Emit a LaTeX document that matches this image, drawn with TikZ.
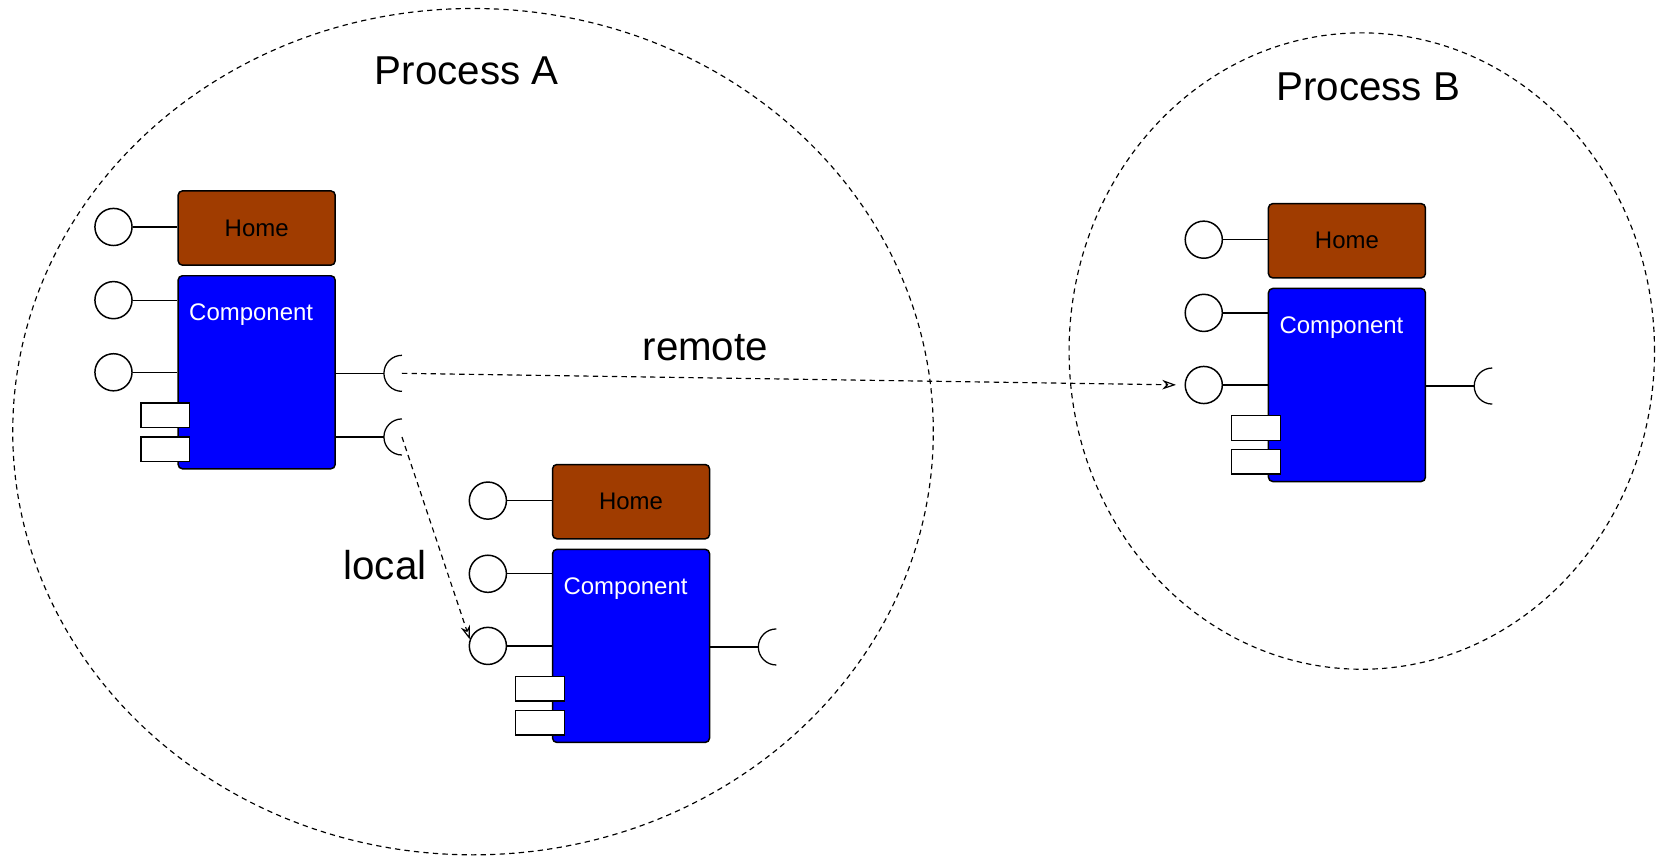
\documentclass[tikz,border=0pt]{standalone}
\usepackage{fontspec}
\setmainfont{Liberation Sans}
\usepackage{xcolor}
\usepackage{tikz}
\usetikzlibrary{arrows.meta}
\usetikzlibrary{shapes}

\definecolor{homebrown}{RGB}{160,60,0}

\tikzset{
    home/.style = {draw, fill = homebrown, rounded corners = 2pt, line width = 0.7pt,
        minimum width = 74pt, minimum height = 35pt, inner sep = 0pt,
        font = \fontsize{11.3}{13}\selectfont},
    comp/.style = {draw, fill = blue, rounded corners = 2pt, line width = 0.7pt,
        minimum width = 74pt, minimum height = 91pt, inner sep = 0pt},
    complabel/.style = {text = white, anchor = west, inner sep = 0pt,
        font = \fontsize{11.3}{13}\selectfont},
    iface/.style = {circle, draw, fill = white, line width = 0.7pt,
        minimum size = 17.5pt, inner sep = 0pt},
    port/.style = {draw, fill = white, line width = 0.6pt,
        minimum width = 23pt, minimum height = 11.5pt, inner sep = 0pt},
    wire/.style = {line width = 0.6pt},
    proc/.style = {line width = 0.55pt, dash pattern = on 2.5pt off 2pt},
    link/.style = {line width = 0.55pt, dash pattern = on 2.5pt off 2pt,
        -{Stealth[open, length = 6.5pt, width = 4.5pt]}},
    title/.style = {font = \fontsize{19}{22}\selectfont, inner sep = 0pt}
}

\begin{document}
\begin{tikzpicture}[x = 0.5pt, y = -0.5pt]
        \useasboundingbox (0, 0) rectangle (1568, 808);

        % processes
        \draw[proc] (446, 407) ellipse[x radius = 217pt, y radius = 199.5pt];
        \draw[proc] (1284, 331) ellipse[x radius = 138pt, y radius = 150pt];
        \node[title] (proc-a) at (440, 67) {Process A};
        \node[title] (proc-b) at (1290, 82) {Process B};

        % components: a = top left, c = lower one in A, b = in B
        \foreach \g/\x/\y in {a/168/180, c/521/438, b/1196/192} {
            \node[home] (\g-home) at (\x + 74, \y + 35) {Home};
            \node[comp] (\g-comp) at (\x + 74, \y + 171) {};
            \node[complabel] (\g-lbl) at (\x + 10, \y + 117) {Component};

            \node[iface] (\g-p1) at (\x - 61, \y + 34) {};
            \node[iface] (\g-p2) at (\x - 61, \y + 103) {};
            \node[iface] (\g-p3) at (\x - 61, \y + 171) {};
            \draw[wire] (\g-p1.east) -- (\g-p1.east -| \g-home.west);
            \draw[wire] (\g-p2.east) -- (\g-p2.east -| \g-comp.west);
            \draw[wire] (\g-p3.east) -- (\g-p3.east -| \g-comp.west);

            \node[port] (\g-q1) at (\x - 12, \y + 211.5) {};
            \node[port] (\g-q2) at (\x - 12, \y + 243.5) {};

            \coordinate (\g-s1) at (\x + 194, \y + 172);
            \draw[wire] (\g-comp.east |- \g-s1) -- (\g-s1);
            \draw[wire] ([shift = {(8.5pt, 8.5pt)}]\g-s1) arc[start angle = 90, end angle = 270, radius = 8.5pt];
        }

        % second receptacle of a
        \coordinate (a-s2) at (362, 412);
        \draw[wire] (a-comp.east |- a-s2) -- (a-s2);
        \draw[wire] ([shift = {(8.5pt, 8.5pt)}]a-s2) arc[start angle = 90, end angle = 270, radius = 8.5pt];

        % calls
        \draw[link, shorten > = 4pt] ([xshift = 8.5pt]a-s1) -- (b-p3.west);
        \draw[link] ([xshift = 8.5pt]a-s2) -- (c-p3.160);
        \node[title] (remote) at (665, 328) {remote};
        \node[title] (local) at (363, 533) {local};
\end{tikzpicture}
\end{document}
